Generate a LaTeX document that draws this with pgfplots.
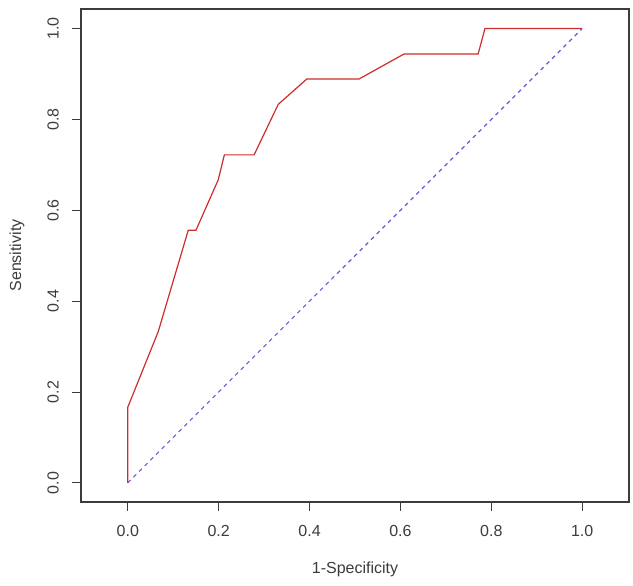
\documentclass[border=0pt]{standalone}
\usepackage{fontspec}
\setmainfont{Liberation Sans}
\usepackage{pgfplots}
\pgfplotsset{compat=1.18}
\definecolor{roc}{RGB}{205,45,45}
\definecolor{diag}{RGB}{95,95,210}
\definecolor{ink}{RGB}{60,60,60}
\begin{document}
\begin{tikzpicture}
\path[use as bounding box] (-81pt,-84pt) rectangle (552pt,502pt);
\begin{axis}[
    at={(0,0)}, anchor=south west,
    scale only axis,
    width=548pt, height=493pt,
    xmin=-0.103, xmax=1.103,
    ymin=-0.042, ymax=1.043,
    xtick={0,0.2,...,1.0}, ytick={0,0.2,...,1.0},
    xtick pos=bottom, ytick pos=left,
    tick align=outside,
    major tick length=9pt,
    every tick/.style={ink, line width=1pt},
    axis line style={ink, line width=1.2pt},
    font=\fontsize{16}{19}\selectfont,
    /pgf/number format/assume math mode=true,
    /pgf/number format/fixed, /pgf/number format/fixed zerofill,
    /pgf/number format/precision=1,
    tick label style={ink},
    xticklabel style={anchor=center, yshift=-20pt},
    yticklabel style={rotate=90, anchor=center},
    yticklabel shift=19pt,
    xlabel={1-Specificity}, ylabel={Sensitivity},
    x label style={ink, at={(axis description cs:0.5,-0.136)}, anchor=center},
    y label style={ink, at={(axis description cs:-0.117,0.5)}, anchor=center},
]
\addplot[diag, line width=1.1pt, dash pattern=on 4pt off 4pt] coordinates {(0,0) (1,1)};
\addplot[roc, line width=1.2pt] coordinates {
    (0,0) (0,0.1667) (0.067,0.333) (0.133,0.556) (0.150,0.556)
    (0.199,0.667) (0.2125,0.722) (0.278,0.722) (0.331,0.833)
    (0.394,0.889) (0.509,0.889) (0.608,0.944) (0.771,0.944)
    (0.786,1.0) (1,1)
};
\end{axis}
\end{tikzpicture}
\end{document}
